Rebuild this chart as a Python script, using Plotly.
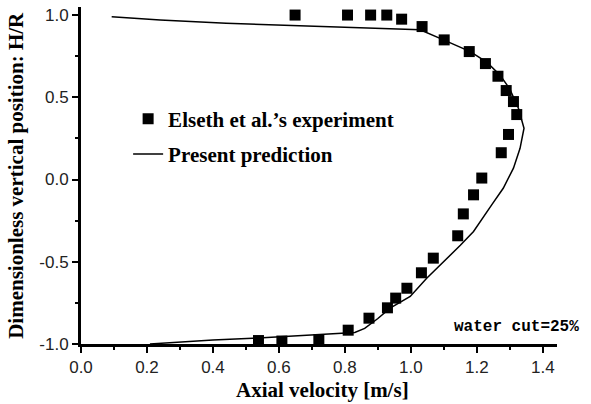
import plotly.graph_objects as go

# Experimental data (Elseth et al.)
exp_velocity = [0.649, 0.808, 0.878, 0.927, 0.972, 1.034, 1.101, 1.177, 1.226, 1.264,
                1.289, 1.311, 1.321, 1.296, 1.274, 1.215, 1.190, 1.159, 1.142, 1.068,
                1.032, 0.988, 0.954, 0.929, 0.873, 0.810, 0.721, 0.609, 0.538]
exp_position = [1.00, 1.00, 1.00, 1.00, 0.975, 0.930, 0.849, 0.778, 0.705, 0.628,
                0.541, 0.474, 0.395, 0.274, 0.163, 0.009, -0.093, -0.209, -0.342, -0.478,
                -0.567, -0.661, -0.721, -0.780, -0.843, -0.916, -0.974, -0.982, -0.979]

# Present prediction
pred_velocity = [0.093, 0.24, 0.44, 0.644, 0.806, 0.897, 1.028, 1.099, 1.18, 1.23,
                 1.27, 1.30, 1.326, 1.343, 1.331, 1.311, 1.28, 1.245, 1.215, 1.19,
                 1.15, 1.109, 1.048, 0.998, 0.937, 0.90, 0.86, 0.83, 0.79, 0.684,
                 0.52, 0.40, 0.30, 0.209]
pred_position = [0.99, 0.97, 0.95, 0.936, 0.922, 0.916, 0.91, 0.849, 0.778, 0.714,
                 0.636, 0.55, 0.433, 0.312, 0.19, 0.069, -0.053, -0.154, -0.245, -0.316,
                 -0.40, -0.478, -0.60, -0.711, -0.782, -0.845, -0.905, -0.93, -0.935, -0.944,
                 -0.965, -0.975, -0.989, -1.0]

x_tickvals = [0.0, 0.2, 0.4, 0.6, 0.8, 1.0, 1.2, 1.4]
x_ticktext = ["0.0", "0.2", "0.4", "0.6", "0.8", "1.0", "1.2", "1.4"]
x_minor = [0.1, 0.3, 0.5, 0.7, 0.9, 1.1, 1.3]
y_tickvals = [-1.0, -0.5, 0.0, 0.5, 1.0]
y_ticktext = ["-1.0", "-0.5", "0.0", "0.5", "1.0"]
y_minor = [-0.75, -0.25, 0.25, 0.75]

serif = "Liberation Serif"
sans = "Liberation Sans"

fig = go.Figure()
fig.add_trace(go.Scatter(
    x=exp_velocity, y=exp_position, mode="markers",
    name="<b>Elseth et al.\u2019s experiment</b>", legendgroup="a",
    marker=dict(symbol="square", size=11, color="black"),
    cliponaxis=False,
))
fig.add_trace(go.Scatter(
    x=pred_velocity, y=pred_position, mode="lines",
    name="<b>Present prediction</b>", legendgroup="b",
    line=dict(color="black", width=1.5),
))

axis_common = dict(
    showline=True, linecolor="black", linewidth=3,
    ticks="outside", ticklen=6, tickwidth=2, tickcolor="black",
    showgrid=False, zeroline=False, mirror=False,
    tickfont=dict(family=sans, size=17, color="#222"),
)

fig.update_xaxes(range=[0, 1.443], tickmode="array", tickvals=x_tickvals, ticktext=x_ticktext,
                 minor=dict(tickmode="array", tickvals=x_minor, ticks="outside", ticklen=3,
                            tickwidth=2, tickcolor="black"),
                 **axis_common)
fig.update_yaxes(range=[-1.0, 1.049], tickmode="array", tickvals=y_tickvals, ticktext=y_ticktext,
                 minor=dict(tickmode="array", tickvals=y_minor, ticks="outside", ticklen=3,
                            tickwidth=2, tickcolor="black"),
                 **axis_common)

fig.update_layout(
    width=591, height=404,
    margin=dict(l=81, r=34, t=7, b=60),
    paper_bgcolor="white", plot_bgcolor="white",
    showlegend=True,
    legend=dict(x=0.099, y=0.728, xanchor="left", yanchor="top",
                bgcolor="rgba(0,0,0,0)", borderwidth=0,
                font=dict(family=serif, size=21, color="black"),
                tracegroupgap=5, itemwidth=30),
    annotations=[
        dict(text="<b>Axial velocity [m/s]</b>", xref="paper", yref="paper",
             x=0.507, y=-0.137, xanchor="center", yanchor="middle", showarrow=False,
             font=dict(family=serif, size=21, color="black")),
        dict(text="<b>Dimensionless vertical position: H/R</b>", xref="paper", yref="paper",
             x=-0.138, y=0.5, xanchor="center", yanchor="middle", textangle=-90, showarrow=False,
             font=dict(family=serif, size=21, color="black")),
        dict(text="<b>water cut=25%</b>", xref="paper", yref="paper",
             x=1.05, y=0.05, xanchor="right", yanchor="middle", showarrow=False,
             font=dict(family="Liberation Mono", size=16, color="black")),
    ],
)

fig.write_html("out.html", config={"displayModeBar": False},
               post_script="document.body.style.margin='0';")
